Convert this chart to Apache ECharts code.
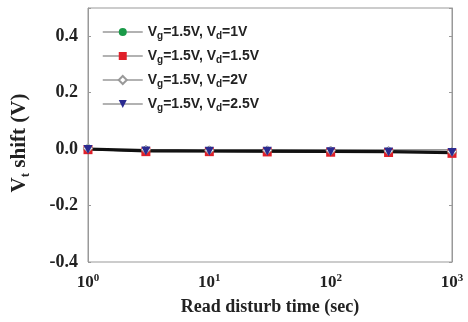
<!DOCTYPE html>
<html>
<head>
<meta charset="utf-8">
<script src="https://cdn.jsdelivr.net/npm/echarts@6/dist/echarts.min.js"></script>
<style>
  html, body { margin: 0; padding: 0; background: #fff; }
  #chart { width: 468px; height: 322px; }
</style>
</head>
<body>
<div id="chart"></div>
<script>
// read disturb times (sec)
const times = [1, 3, 10, 30, 100, 300, 1000];
// Vt shift (V) for each drain bias
const vd1 = [0.0, -0.006, -0.007, -0.008, -0.009, -0.010, -0.012];
const vd15 = [-0.002, -0.009, -0.009, -0.010, -0.011, -0.012, -0.015];
const vd2 = [0.003, -0.002, -0.004, -0.004, -0.005, -0.006, -0.009];
const vd25 = [-0.001, -0.007, -0.008, -0.008, -0.009, -0.010, -0.012];
const seriesNames = ["Vg=1.5V, Vd=1V", "Vg=1.5V, Vd=1.5V", "Vg=1.5V, Vd=2V", "Vg=1.5V, Vd=2.5V"];
const legendLabels = {
    "Vg=1.5V, Vd=1V": "V{s|g}=1.5V, V{s|d}=1V",
    "Vg=1.5V, Vd=1.5V": "V{s|g}=1.5V, V{s|d}=1.5V",
    "Vg=1.5V, Vd=2V": "V{s|g}=1.5V, V{s|d}=2V",
    "Vg=1.5V, Vd=2.5V": "V{s|g}=1.5V, V{s|d}=2.5V",
};
const xTickLabels = { 1: "10{e|0}", 10: "10{e|1}", 100: "10{e|2}", 1000: "10{e|3}" };

const pair = (ys) => times.map((t, i) => [t, ys[i]]);

const chart = echarts.init(document.getElementById("chart"));
const serif = "'Liberation Serif', 'Times New Roman', serif";
const sans = "'Liberation Sans', Arial, sans-serif";

const lineSeries = (name, ys, symbol, itemStyle, extra) => ({
    name,
    type: "line",
    data: pair(ys),
    symbol,
    symbolSize: 9,
    showSymbol: true,
    lineStyle: { color: "#111", width: 1.6 },
    itemStyle,
    z: 3,
    ...extra,
});

const option = {
    animation: false,
    grid: { left: 88, right: 16, top: 8, bottom: 60, show: true, borderColor: "#999", borderWidth: 1 },
    legend: {
        orient: "vertical",
        left: 97,
        top: 20,
        itemGap: 8,
        itemWidth: 40,
        itemHeight: 10,
        data: seriesNames,
        lineStyle: { color: "#999", width: 1.5 },
        formatter: (n) => legendLabels[n],
        textStyle: {
            fontFamily: sans,
            fontWeight: "bold",
            fontSize: 14,
            color: "#222",
            rich: {
                s: { fontFamily: sans, fontWeight: "bold", fontSize: 10, color: "#222", verticalAlign: "bottom", padding: [8, 0, 0, 0] },
            },
        },
    },
    xAxis: [
        {
            type: "log",
            logBase: 10,
            min: 1,
            max: 1000,
            name: "Read disturb time (sec)",
            nameLocation: "middle",
            nameGap: 36,
            nameTextStyle: { fontFamily: serif, fontWeight: "bold", fontSize: 18, color: "#222" },
            axisLine: { lineStyle: { color: "#999" } },
            axisTick: { inside: true, length: 3, lineStyle: { color: "#999" } },
            splitLine: { show: false },
            axisLabel: {
                margin: 11,
                formatter: (v) => xTickLabels[Math.round(v)] || "",
                fontFamily: serif,
                fontWeight: "bold",
                fontSize: 17,
                color: "#222",
                rich: {
                    e: { fontFamily: serif, fontWeight: "bold", fontSize: 11, color: "#222", verticalAlign: "top", padding: [0, 0, 8, 0] },
                },
            },
        },
        {
            type: "log",
            logBase: 10,
            min: 1,
            max: 1000,
            position: "top",
            axisLine: { lineStyle: { color: "#999" } },
            axisTick: { inside: true, length: 3, lineStyle: { color: "#999" } },
            axisLabel: { show: false },
            splitLine: { show: false },
        },
    ],
    yAxis: [
        {
            type: "value",
            min: -0.4,
            max: 0.5,
            interval: 0.2,
            name: "V{s|t} shift (V)",
            nameLocation: "middle",
            nameGap: 56,
            nameRotate: 90,
            nameTextStyle: {
                fontFamily: serif,
                fontWeight: "bold",
                fontSize: 21,
                color: "#222",
                padding: [0, 16, 0, 0],
                rich: {
                    s: { fontFamily: serif, fontWeight: "bold", fontSize: 13, color: "#222", verticalAlign: "bottom", padding: [11, 0, 0, 0] },
                },
            },
            axisLine: { show: true, lineStyle: { color: "#999" } },
            axisTick: { show: true, inside: true, length: 3, lineStyle: { color: "#999" } },
            splitLine: { show: false },
            axisLabel: {
                margin: 10,
                formatter: (v) => (v > 0.45 ? "" : v.toFixed(1)),
                fontFamily: serif,
                fontWeight: "bold",
                fontSize: 18,
                color: "#222",
            },
        },
        {
            type: "value",
            min: -0.4,
            max: 0.5,
            interval: 0.2,
            position: "right",
            axisLine: { show: true, lineStyle: { color: "#999" } },
            axisTick: { show: true, inside: true, length: 3, lineStyle: { color: "#999" } },
            axisLabel: { show: false },
            splitLine: { show: false },
        },
    ],
    series: [
        lineSeries(seriesNames[0], vd1, "circle", { color: "#1a9a48" }),
        lineSeries(seriesNames[1], vd15, "rect", { color: "#e0202a" }),
        lineSeries(seriesNames[2], vd2, "diamond", { color: "#fff", borderColor: "#999", borderWidth: 1 }),
        lineSeries(seriesNames[3], vd25, "triangle", { color: "#2a2a90" }, { symbolRotate: 180 }),
    ],
};

chart.setOption(option);
</script>
</body>
</html>
